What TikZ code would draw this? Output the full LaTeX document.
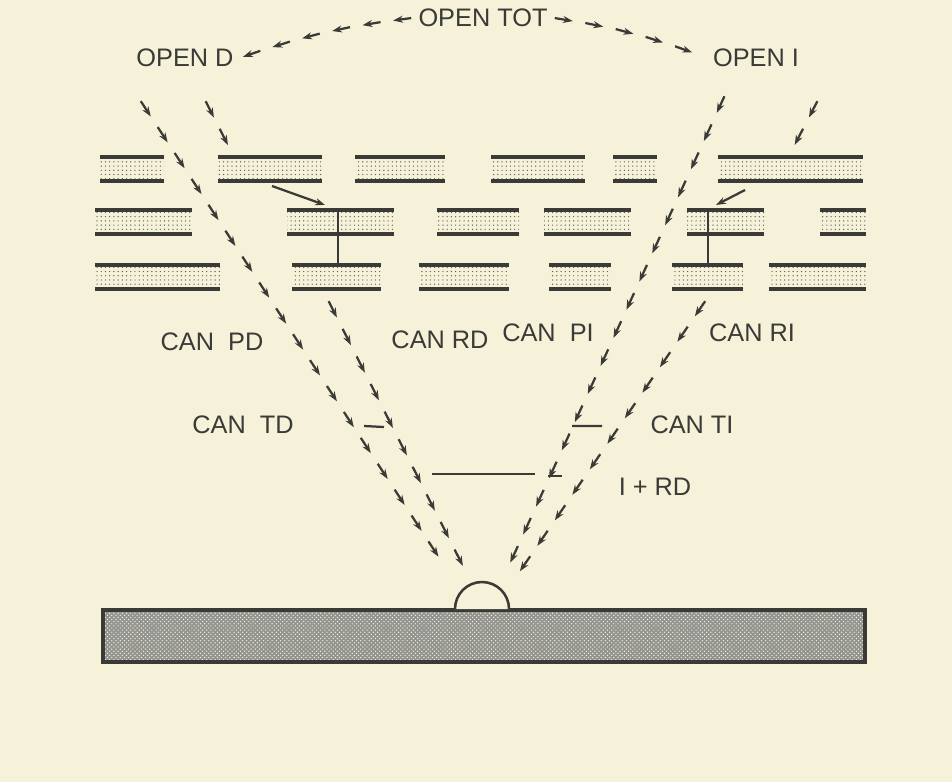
\documentclass[tikz,border=0pt]{standalone}
\usepackage{fontspec}
\setmainfont{Liberation Sans}
\usetikzlibrary{arrows.meta,decorations.markings,patterns}
\definecolor{paper}{HTML}{F6F2DA}
\definecolor{ink}{HTML}{3A3A36}

\begin{document}
\begin{tikzpicture}[x=0.025cm, y=-0.025cm, ink, font=\fontsize{18}{22}\selectfont,
  lbl/.style = {text=ink, inner sep=4pt},
  tip/.style = {-{Stealth[length=7pt,width=5pt]}},
  ray/.style = {postaction=decorate,
    decoration={markings,
      mark=between positions 14pt and 1 step 22pt with {\draw[line width=1.6pt, tip] (-13pt,0) -- (0,0);}}},
  leaf/.style = {pattern=dots, pattern color=ink!80}]
  \fill[paper] (0,0) rectangle (952,782);
  \useasboundingbox (0,0) rectangle (952,782);

  % labels
  \node[lbl] (tot) at (483,18) {OPEN TOT};
  \node[lbl] (od) at (185,58) {OPEN D};
  \node[lbl] (oi) at (756,58) {OPEN I};
  \node[lbl] (pd) at (212,342) {CAN\ \ PD};
  \node[lbl] (rd) at (440,340) {CAN RD};
  \node[lbl] (pi) at (548,333) {CAN\ \ PI};
  \node[lbl] (ri) at (752,333) {CAN RI};
  \node[lbl] (td) at (243,425) {CAN\ \ TD};
  \node[lbl] (ti) at (692,425) {CAN TI};
  \node[lbl] (ird) at (655,487) {I + RD};

  % leaves, three rows
  \foreach \y/\segs in {157/{100/164,218/322,355/445,491/585,613/657,718/863},
                        210/{95/192,287/394,437/519,544/631,687/764,820/866},
                        265/{95/220,292/381,419/509,549/611,672/743,769/866}}{
    \foreach \a/\b in \segs{
      \fill[leaf] (\a,\y) rectangle (\b,\y+24);
      \draw[line width=2.2pt] (\a,\y) -- (\b,\y) (\a,\y+24) -- (\b,\y+24);
    }
  }

  % ground and sensor
  \fill[ink!55] (103,610) rectangle (865,662);
  \fill[pattern=crosshatch dots, pattern color=paper] (103,610) rectangle (865,662);
  \draw[line width=2.4pt] (103,610) rectangle (865,662);
  \draw[line width=1.8pt, fill=paper] (455,609) arc (180:360:27) coordinate (dome);

  % ray ends
  \coordinate (lo1) at (140,100);  \coordinate (lo2) at (455,582);
  \coordinate (li1) at (205,100);  \coordinate (li2) at (233,155);
  \coordinate (rf1) at (272,186);  \coordinate (rf2) at (325,205);
  \coordinate (cr1) at (328,300);  \coordinate (cr2) at (466,572);
  \coordinate (ri1) at (725,95);   \coordinate (ri2) at (500,585);
  \coordinate (ro1) at (818,100);  \coordinate (ro2) at (792,150);
  \coordinate (rg1) at (745,190);  \coordinate (rg2) at (716,205);
  \coordinate (cq1) at (706,300);  \coordinate (cq2) at (518,574);

  \path[ray] (tot.west) to[bend right=6] (od.east);
  \path[ray] (tot.east) to[bend left=6] (oi.west);
  \path[ray] (lo1) -- (lo2);
  \path[ray] (li1) -- (li2);
  \draw[line width=1.6pt, tip] (rf1) -- (rf2);
  \path[ray] (cr1) -- (cr2);
  \path[ray] (ri1) -- (ri2);
  \path[ray] (ro1) -- (ro2);
  \draw[line width=1.6pt, tip] (rg1) -- (rg2);
  \path[ray] (cq1) -- (cq2);

  % stems and short marks
  \draw[line width=1.6pt] (338,212) -- (338,264) (708,212) -- (708,264);
  \draw[line width=1.6pt] (364,426) -- (384,427) (572,426) -- (602,426);
  \draw[line width=1.6pt] (432,474) -- (535,474) (548,476) -- (562,476);
\end{tikzpicture}
\end{document}
